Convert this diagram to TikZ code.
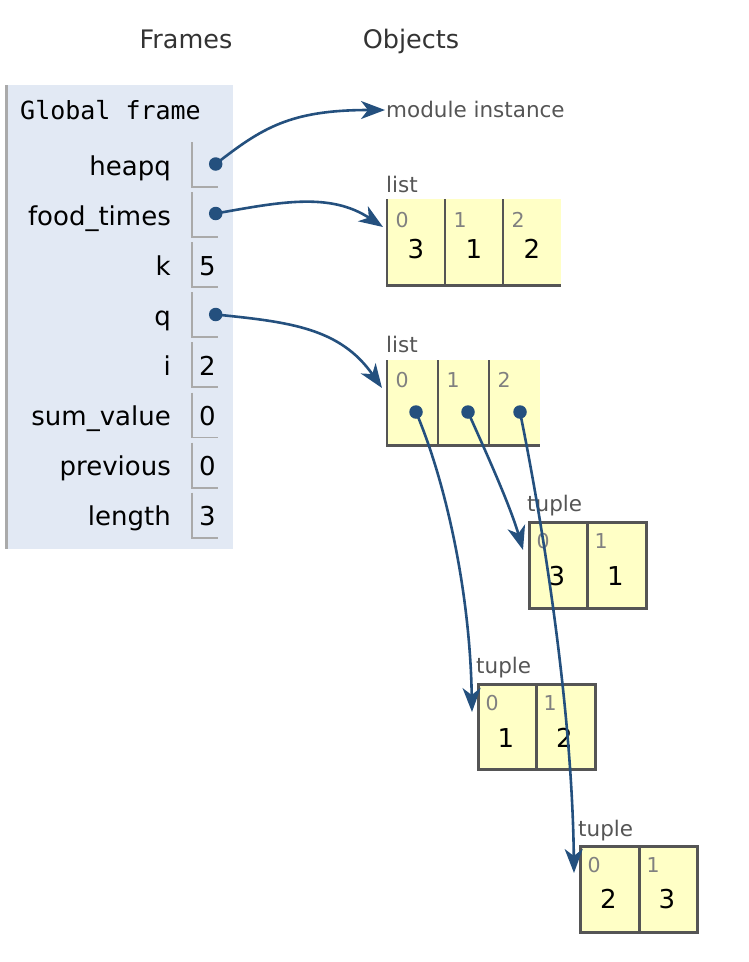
\documentclass[tikz,border=0pt]{standalone}
\usepackage{fontspec}
\setmainfont{DejaVu Sans}
\newfontfamily\monofont{DejaVu Sans Mono}
\usetikzlibrary{arrows.meta,calc}
\definecolor{arr}{RGB}{36,80,126}
\definecolor{framebg}{RGB}{226,233,244}
\definecolor{cellbg}{RGB}{255,255,198}
\definecolor{objborder}{RGB}{85,85,85}
\definecolor{valborder}{RGB}{170,170,170}
\definecolor{hdr}{RGB}{51,51,51}
\definecolor{lbl}{RGB}{85,85,85}
\definecolor{idx}{RGB}{128,128,128}
\tikzset{
  hdrtext/.style={font=\fontsize{25.5}{30}\selectfont, text=hdr, anchor=base, inner sep=0},
  varname/.style={font=\fontsize{26}{30}\selectfont, anchor=base east, inner sep=0},
  valtext/.style={font=\fontsize{26}{30}\selectfont, anchor=base, inner sep=0},
  typelbl/.style={font=\fontsize{21.5}{26}\selectfont, text=lbl, anchor=base west, inner sep=0},
  idxlbl/.style={font=\fontsize{20.5}{24}\selectfont, text=idx, anchor=base west, inner sep=0},
  celltext/.style={font=\fontsize{26}{30}\selectfont, anchor=base, inner sep=0},
  valbox/.style={draw=valborder, line width=1.9pt},
  objline/.style={draw=objborder, line width=2.6pt},
  cellbox/.style={fill=cellbg, inner sep=0, anchor=north west},
  tcell/.style={fill=cellbg, draw=objborder, line width=2.6pt, inner sep=0, anchor=north west},
  ptrdot/.style={circle, fill=arr, inner sep=0, minimum size=13.5pt},
  ptr/.style={draw=arr, line width=2.6pt, -{Stealth[length=24pt,width=18pt,inset=7pt]}},
}
\begin{document}
\begin{tikzpicture}[x=1pt,y=-1pt]
\useasboundingbox (0,0) rectangle (748,962);
% headers
\node[hdrtext] (hframes) at (186,48) {Frames};
\node[hdrtext] (hobjects) at (411,48) {Objects};
% frame
\fill[framebg] (7,85) rectangle (233,549);
\draw[valborder, line width=2.4pt] (6.5,85) -- (6.5,549);
\node[anchor=base west, inner sep=0, font=\monofont\fontsize{25}{30}\selectfont] (gframe) at (20,119) {Global frame};
\foreach \nm/\txt/\v [count=\i from 0] in {heapq/heapq/{}, foodtimes/food\_times/{}, k/k/5, q/q/{}, i/i/2, sumvalue/sum\_value/0, previous/previous/0, length/length/3} {
  \pgfmathsetmacro\yb{175+50.1*\i}
  \node[varname] (name-\nm) at (171,\yb) {\txt};
  \draw[valbox] (192,\yb-33) -- (192,\yb+12) -- (218,\yb+12);
  \node[valtext] (val-\nm) at (207.5,\yb) {\v};
}
\node[ptrdot] (d-heapq) at (215.7,164) {};
\node[ptrdot] (d-food) at (215.7,213.5) {};
\node[ptrdot] (d-q) at (215.7,314.5) {};
% module
\node[typelbl] (mod) at (386,117) {module instance};
% list 1
\node[typelbl] (l1lbl) at (386,192) {list};
\node[cellbox, minimum width=58pt, minimum height=86pt] (l1c0) at (387,199) {};
\node[cellbox, minimum width=58pt, minimum height=86pt] (l1c1) at (445,199) {};
\node[cellbox, minimum width=58pt, minimum height=86pt] (l1c2) at (503,199) {};
\draw[objline] (l1c0.north west) -- (l1c0.south west) -- (l1c2.south east);
\draw[objline] (l1c1.north west) -- (l1c1.south west);
\draw[objline] (l1c2.north west) -- (l1c2.south west);
\node[idxlbl] (l1i0) at (395.5,227) {0};
\node[idxlbl] (l1i1) at (453.5,227) {1};
\node[idxlbl] (l1i2) at (511.5,227) {2};
\node[celltext] (l1v0) at (416,258) {3};
\node[celltext] (l1v1) at (474,258) {1};
\node[celltext] (l1v2) at (532,258) {2};
% list 2
\node[typelbl] (l2lbl) at (386,352) {list};
\node[cellbox, minimum width=51pt, minimum height=85pt] (l2c0) at (387,360) {};
\node[cellbox, minimum width=51pt, minimum height=85pt] (l2c1) at (438,360) {};
\node[cellbox, minimum width=51pt, minimum height=85pt] (l2c2) at (489,360) {};
\draw[objline] (l2c0.north west) -- (l2c0.south west) -- (l2c2.south east);
\draw[objline] (l2c1.north west) -- (l2c1.south west);
\draw[objline] (l2c2.north west) -- (l2c2.south west);
\node[idxlbl] (l2i0) at (395.5,387) {0};
\node[idxlbl] (l2i1) at (446.5,387) {1};
\node[idxlbl] (l2i2) at (497.5,387) {2};
\node[ptrdot] (d-l20) at (416,412) {};
\node[ptrdot] (d-l21) at (468,412) {};
\node[ptrdot] (d-l22) at (520,412) {};
% tuple 1
\node[typelbl] (t1lbl) at (527,511) {tuple};
\node[tcell, minimum width=58pt, minimum height=86pt] (t1c0) at (528,521) {};
\node[tcell, minimum width=59pt, minimum height=86pt] (t1c1) at (586,521) {};
\node[idxlbl] (t1i0) at (536.5,548) {0};
\node[idxlbl] (t1i1) at (594.5,548) {1};
\node[celltext] (t1v0) at (557,585) {3};
\node[celltext] (t1v1) at (615.5,585) {1};
% tuple 2
\node[typelbl] (t2lbl) at (476,673) {tuple};
\node[tcell, minimum width=58pt, minimum height=85pt] (t2c0) at (477,683) {};
\node[tcell, minimum width=59pt, minimum height=85pt] (t2c1) at (535,683) {};
\node[idxlbl] (t2i0) at (485.5,710) {0};
\node[idxlbl] (t2i1) at (543.5,710) {1};
\node[celltext] (t2v0) at (506,747) {1};
\node[celltext] (t2v1) at (564.5,747) {2};
% tuple 3
\node[typelbl] (t3lbl) at (578,836) {tuple};
\node[tcell, minimum width=59pt, minimum height=86pt] (t3c0) at (579,845) {};
\node[tcell, minimum width=58pt, minimum height=86pt] (t3c1) at (638,845) {};
\node[idxlbl] (t3i0) at (587.5,872) {0};
\node[idxlbl] (t3i1) at (646.5,872) {1};
\node[celltext] (t3v0) at (608.5,908) {2};
\node[celltext] (t3v1) at (667,908) {3};
% arrow end points
\coordinate (e-mod) at (385,110);
\coordinate (e-l1) at (383,227);
\coordinate (e-l2) at (382,388);
\coordinate (e-t1) at (523,550);
\coordinate (e-t2) at (472,712);
\coordinate (e-t3) at (574,873);
% arrows
\draw[ptr] (d-heapq.center) .. controls (262,128) and (290,110) .. (e-mod);
\draw[ptr] (d-food.center) .. controls (280,202) and (330,192) .. (e-l1);
\draw[ptr] (d-q.center) .. controls (290,322) and (340,328) .. (e-l2);
\draw[ptr] (d-l20.center) .. controls (445,480) and (470,590) .. (e-t2);
\draw[ptr] (d-l21.center) .. controls (485,450) and (510,505) .. (e-t1);
\draw[ptr] (d-l22.center) .. controls (540,510) and (572,700) .. (e-t3);
\end{tikzpicture}
\end{document}
